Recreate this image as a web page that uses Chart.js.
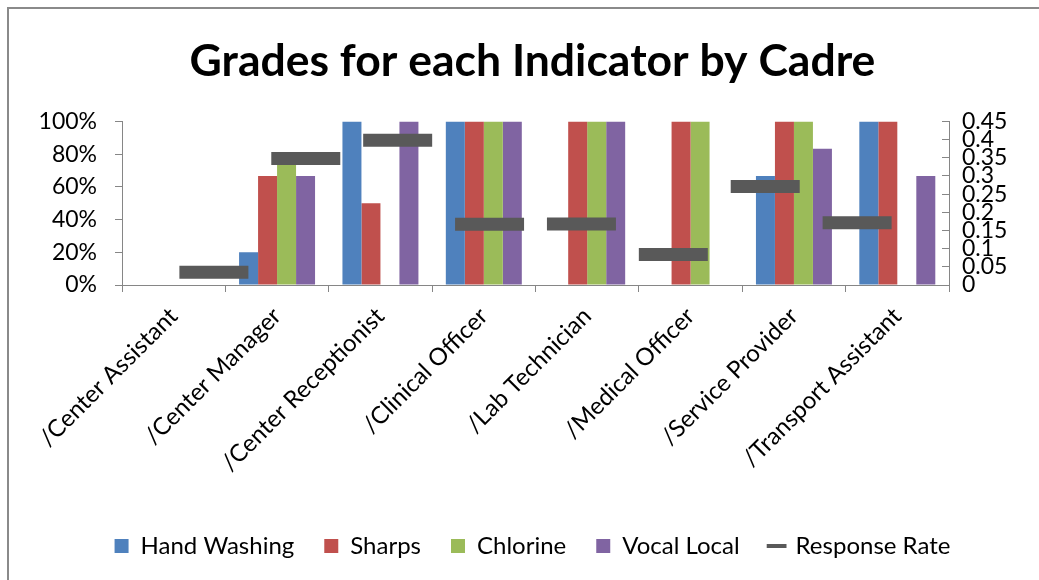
<!DOCTYPE html>
<html>
<head>
<meta charset="utf-8">
<title>Grades for each Indicator by Cadre</title>
<script src="https://cdn.jsdelivr.net/npm/chart.js@4.4.0/dist/chart.umd.min.js"></script>
<style>
	html, body {
		margin: 0;
		padding: 0;
		background: #ffffff;
		overflow: hidden;
	}
	#frame {
		position: absolute;
		left: 7px;
		top: 7px;
		width: 1100px;
		height: 700px;
		border: 2px solid #8a8a8a;
	}
	#chart-wrap {
		position: absolute;
		left: 0;
		top: 0;
		width: 1039px;
		height: 580px;
	}
</style>
</head>
<body>
<div id="frame"></div>
<div id="chart-wrap"><canvas id="grades-canvas"></canvas></div>
<script>
// Data
const cadres = [
	"/Center Assistant",
	"/Center Manager",
	"/Center Receptionist",
	"/Clinical Officer",
	"/Lab Technician",
	"/Medical Officer",
	"/Service Provider",
	"/Transport Assistant",
];
const handWashing = [0, 20, 100, 100, 0, 0, 66.7, 100];
const sharps = [0, 66.7, 50, 100, 100, 100, 100, 100];
const chlorine = [0, 75, 0, 100, 100, 100, 100, 0];
const vocalLocal = [0, 66.7, 100, 100, 100, 0, 83.3, 66.7];
const responseRate = [0.035, 0.348, 0.398, 0.167, 0.168, 0.084, 0.271, 0.171];

const percentTicks = [0, 20, 40, 60, 80, 100];
const rateTicks = [0, 0.05, 0.1, 0.15, 0.2, 0.25, 0.3, 0.35, 0.4, 0.45];

const axisGray = "#868686";
const fontFamily = "Lato, 'Open Sans', sans-serif";

// Chart.js 4.5 splits each bar group between every index axis it finds,
// and the hidden x2 axis of the dashes would halve the bars
if (Chart.BarController && Chart.BarController.prototype._getAxisCount) {
	Chart.BarController.prototype._getAxisCount = function () {
		return 1;
	};
}

function barSet(label, values, color) {
	return {
		type: "bar",
		label: label,
		data: values,
		backgroundColor: color,
		borderWidth: 0,
		categoryPercentage: 0.735,
		barPercentage: 1,
		xAxisID: "x",
		yAxisID: "y",
		order: 1,
	};
}

// the response rate dashes sit on their own hidden axis, as in the original
const ratePoints = responseRate.map(function (v, i) {
	return { x: i, y: v };
});

new Chart("grades-canvas", {
	data: {
		labels: cadres,
		datasets: [
			barSet("Hand Washing", handWashing, "#4f81bd"),
			barSet("Sharps", sharps, "#c0504d"),
			barSet("Chlorine", chlorine, "#9bbb59"),
			barSet("Vocal Local", vocalLocal, "#8064a2"),
			{
				type: "line",
				label: "Response Rate",
				data: ratePoints,
				showLine: false,
				pointStyle: "line",
				pointRadius: 34.5,
				pointHoverRadius: 34.5,
				pointBorderWidth: 13,
				pointHoverBorderWidth: 13,
				borderColor: "#595959",
				pointBorderColor: "#595959",
				backgroundColor: "#595959",
				xAxisID: "x2",
				yAxisID: "y2",
				order: 0,
			},
		],
	},
	options: {
		responsive: true,
		maintainAspectRatio: false,
		animation: false,
		events: [],
		layout: {
			padding: { left: 26, right: 0, top: 0, bottom: 12 },
		},
		plugins: {
			title: {
				display: true,
				text: "Grades for each Indicator by Cadre",
				color: "#000000",
				font: { family: fontFamily, size: 44.5, weight: "bold" },
				padding: { top: 35, bottom: 33 },
			},
			legend: {
				display: true,
				position: "bottom",
				labels: {
					color: "#000000",
					font: { family: fontFamily, size: 24 },
					usePointStyle: true,
					boxWidth: 14,
					boxHeight: 14,
					padding: 30,
					generateLabels: function (chart) {
						const items = Chart.defaults.plugins.legend.labels.generateLabels(chart);
						items.forEach(function (item) {
							const ds = chart.data.datasets[item.datasetIndex];
							if (ds.type === "line") {
								item.pointStyle = "line";
								item.lineWidth = 4;
								item.strokeStyle = "#595959";
							} else {
								item.pointStyle = "rect";
								item.lineWidth = 0;
							}
						});
						items.sort(function (a, b) {
							return a.datasetIndex - b.datasetIndex;
						});
						return items;
					},
				},
			},
			tooltip: { enabled: false },
		},
		scales: {
			x: {
				type: "category",
				position: "bottom",
				offset: true,
				grid: {
					offset: true,
					drawOnChartArea: false,
					drawTicks: true,
					tickLength: 7,
					color: axisGray,
				},
				border: { color: axisGray, width: 1 },
				ticks: {
					color: "#000000",
					font: { family: fontFamily, size: 24 },
					minRotation: 45,
					maxRotation: 45,
					autoSkip: false,
					padding: 10,
				},
				afterFit: function (scale) {
					scale.height = 219;
				},
			},
			x2: {
				type: "linear",
				position: "bottom",
				display: false,
				offset: false,
				min: -1,
				max: cadres.length,
			},
			y: {
				type: "linear",
				position: "left",
				min: percentTicks[0],
				max: percentTicks[percentTicks.length - 1],
				grid: {
					drawOnChartArea: false,
					tickLength: 7,
					color: axisGray,
				},
				border: { color: axisGray, width: 1 },
				afterBuildTicks: function (scale) {
					scale.ticks = percentTicks.map(function (v) {
						return { value: v };
					});
				},
				ticks: {
					color: "#000000",
					font: { family: fontFamily, size: 23 },
					padding: 18,
					autoSkip: false,
					callback: function (value) {
						return value + "%";
					},
				},
				afterFit: function (scale) {
					scale.width = 96;
				},
			},
			y2: {
				type: "linear",
				position: "right",
				min: rateTicks[0],
				max: rateTicks[rateTicks.length - 1],
				grid: {
					drawOnChartArea: false,
					tickLength: -7,
					color: axisGray,
				},
				border: { color: axisGray, width: 1 },
				afterBuildTicks: function (scale) {
					scale.ticks = rateTicks.map(function (v) {
						return { value: v };
					});
				},
				ticks: {
					color: "#000000",
					font: { family: fontFamily, size: 23 },
					padding: 20,
					autoSkip: false,
					callback: function (value) {
						return String(Math.round(value * 100) / 100);
					},
				},
				afterFit: function (scale) {
					scale.width = 90;
				},
			},
		},
	},
});
</script>
</body>
</html>
